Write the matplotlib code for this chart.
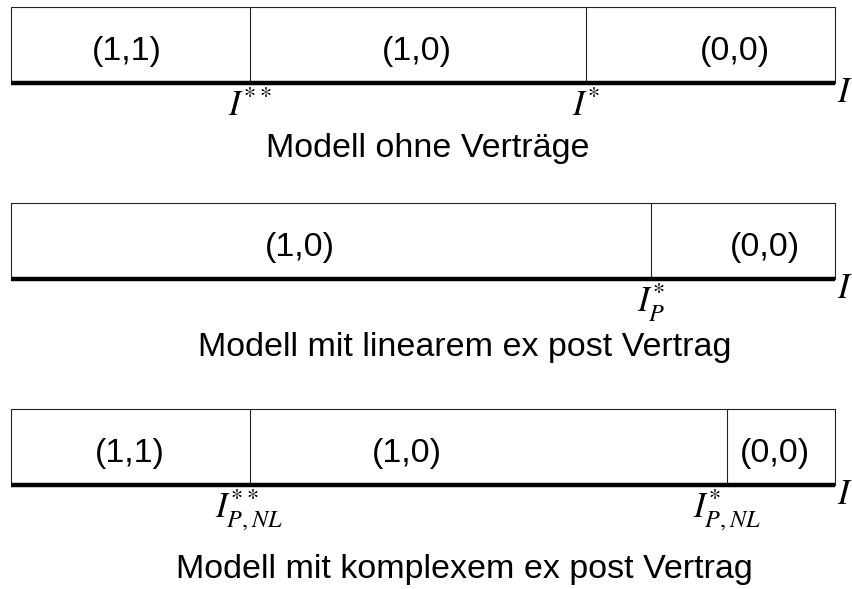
import matplotlib.pyplot as plt

plt.rcParams['mathtext.fontset'] = 'stix'
plt.rcParams['font.family'] = ['Liberation Sans', 'DejaVu Sans']

# Schwellenwerte auf der I-Achse (0 = links, 1 = rechts) je Modell
cuts_ohne = [0.2895, 0.698]
cuts_linear = [0.777]
cuts_komplex = [0.2895, 0.869]

# Bereiche zwischen den Schwellen
regions_ohne = ['(1,1)', '(1,0)', '(0,0)']
regions_linear = ['(1,0)', '(0,0)']
regions_komplex = ['(1,1)', '(1,0)', '(0,0)']

# Namen der Schwellenwerte
cut_names_ohne = [r'$I^{**}$', r'$I^{*}$']
cut_names_linear = [r'$I_P^{*}$']
cut_names_komplex = [r'$I_{P,NL}^{**}$', r'$I_{P,NL}^{*}$']

titles = ['Modell ohne Verträge',
          'Modell mit linearem ex post Vertrag',
          'Modell mit komplexem ex post Vertrag']

panels = [
    (cuts_ohne, regions_ohne, cut_names_ohne),
    (cuts_linear, regions_linear, cut_names_linear),
    (cuts_komplex, regions_komplex, cut_names_komplex),
]

# Layout (nur Platzierung der Beschriftungen)
region_x = [[0.141, 0.493, 0.879], [0.351, 0.915], [0.144, 0.481, 0.927]]
title_x = [0.506, 0.55, 0.55]
title_y = [-0.974, -1.013, -1.22]
bottoms = [0.8591, 0.5263, 0.1766]

fig = plt.figure(figsize=(8.52, 5.89), dpi=100)
left, width, height = 11 / 852, 824 / 852, 76 / 589

for k, (cuts, regions, names) in enumerate(panels):
    ax = fig.add_axes([left, bottoms[k], width, height])
    ax.set_xlim(0, 1)
    ax.set_ylim(0, 1)
    ax.axis('off')

    # Kasten: oben, links, rechts
    ax.plot([0, 0, 1, 1], [0, 1, 1, 0], color='#222222', lw=0.8, clip_on=False)
    # Trennlinien an den Schwellen
    ax.vlines(cuts, 0, 1, color='#222222', lw=0.8, clip_on=False)
    # dicke I-Achse
    ax.hlines(0, 0, 1, color='black', lw=3.2, clip_on=False)

    for x, lab in zip(region_x[k], regions):
        ax.text(x, 0.42, lab, ha='center', va='center', fontsize=24.5)

    for c, nm in zip(cuts, names):
        ax.text(c, -0.44, nm, ha='center', va='baseline', fontsize=25)

    ax.text(1.012, -0.25, r'$I$', ha='center', va='baseline', fontsize=25)
    ax.text(title_x[k], title_y[k], titles[k], ha='center', va='baseline',
            fontsize=24.5)

fig.savefig('out.png', dpi=100)
